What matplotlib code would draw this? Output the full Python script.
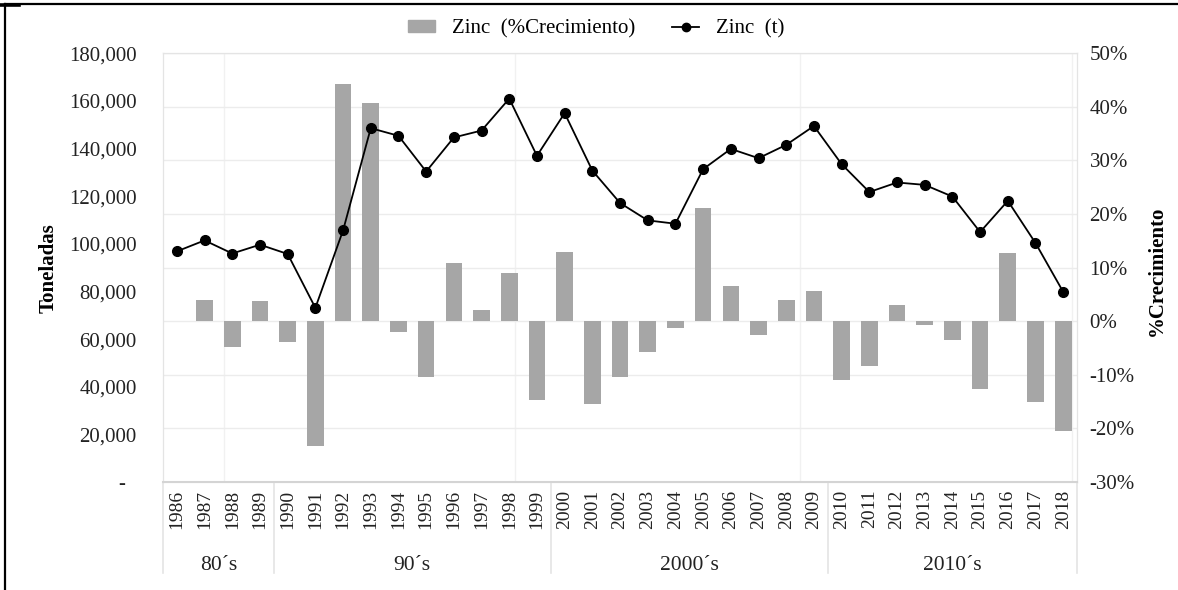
import matplotlib.pyplot as plt
import numpy as np
from matplotlib.lines import Line2D
from matplotlib.patches import Patch

plt.rcParams['font.family'] = ['Liberation Serif', 'DejaVu Serif']

years = list(range(1986, 2019))
zinc_t = [96800, 101400, 95900, 99600, 95700, 73100, 105600, 148500, 145300, 130300,
          144600, 147500, 160900, 136900, 154800, 130700, 117100, 109800, 108400, 131300,
          139800, 135900, 141500, 149400, 133400, 121700, 125700, 124700, 119800, 104900,
          118000, 100300, 79800]
zinc_pct = [np.nan, 4.0, -4.9, 3.8, -3.9, -23.3, 44.2, 40.7, -2.0, -10.4,
            10.9, 2.1, 9.0, -14.7, 12.9, -15.5, -10.5, -5.8, -1.2, 21.2,
            6.5, -2.6, 3.9, 5.7, -10.9, -8.4, 3.0, -0.7, -3.5, -12.7,
            12.7, -15.1, -20.5]
decades = ["80´s", "90´s", "2000´s", "2010´s"]
decade_start = [1986, 1990, 2000, 2010]

x = np.arange(len(years))
grey = '#a6a6a6'
light = '#e4e4e4'
txt = '#222222'

fig = plt.figure(figsize=(11.78, 5.90), dpi=100)
ax = fig.add_axes([0.1384, 0.183, 0.7759, 0.727])
ax2 = ax.twinx()
ax.set_zorder(2)
ax2.set_zorder(1)
ax.patch.set_visible(False)

# growth bars on the right axis
ax2.bar(x, zinc_pct, width=0.6, color=grey, zorder=2)
ax2.set_ylim(-30, 50)
ax2.set_yticks(np.arange(-30, 51, 10))
ax2.set_yticklabels([f'{v}%' for v in range(-30, 51, 10)])
ax2.grid(axis='y', color='#ececec', lw=1)
ax2.set_axisbelow(True)

# tonnes line on the left axis
ax.plot(x, zinc_t, color='black', lw=1.3, marker='o', markersize=7, zorder=3)
ax.set_ylim(0, 180000)
ax.set_yticks(np.arange(0, 180001, 20000))
ax.set_yticklabels(['-  '] + [f'{v:,}' for v in range(20000, 180001, 20000)])
ax.set_xlim(-0.5, len(years) - 0.5)
ax.set_xticks([])

for a in (ax, ax2):
    a.tick_params(axis='y', length=0, labelsize=15, colors=txt)
    for s in a.spines.values():
        s.set_color(light)
ax.tick_params(axis='y', pad=19)
ax2.tick_params(axis='y', pad=9)
ax.spines['bottom'].set_color('#d4d4d4')
ax.spines['bottom'].set_linewidth(1.5)

# faint vertical grid
for gx in [1.7, 12.2, 22.5, 32.3]:
    ax2.axvline(gx, color='#f1f1f1', lw=1, zorder=0)

# two-level category axis
trans = ax.get_xaxis_transform()
for xi, yr in zip(x, years):
    ax.text(xi, -0.018, str(yr), transform=trans, rotation=90, ha='center', va='top',
            fontsize=14, color=txt)
bounds = [years.index(d) - 0.5 for d in decade_start] + [len(years) - 0.5]
for b in bounds:
    ax.plot([b, b], [0, -0.213], transform=trans, color=light, lw=1.2, clip_on=False)
for i, name in enumerate(decades):
    ax.text((bounds[i] + bounds[i + 1]) / 2, -0.195, name, transform=trans,
            ha='center', va='center', fontsize=15.5, color=txt)

fig.text(0.0415, 0.546, 'Toneladas', rotation=90, ha='center', va='center',
         fontsize=15, fontweight='bold')
fig.text(0.982, 0.541, '%Crecimiento', rotation=90, ha='center', va='center',
         fontsize=15, fontweight='bold')

handles = [Patch(color=grey), Line2D([], [], color='black', lw=1.3, marker='o', markersize=6)]
fig.legend(handles, ['Zinc  (%Crecimiento)', 'Zinc  (t)'], loc='center',
           bbox_to_anchor=(0.506, 0.951), ncol=2, frameon=False, fontsize=15,
           handlelength=1.3, handleheight=0.5, columnspacing=1.8, handletextpad=0.8)

# outer frame
fig.add_artist(Line2D([0.0045, 0.0045], [0, 0.993], transform=fig.transFigure, color='black', lw=1.6))
fig.add_artist(Line2D([0.0045, 1], [0.993, 0.993], transform=fig.transFigure, color='black', lw=1.6))
fig.add_artist(Line2D([0, 0.016], [0.992, 0.992], transform=fig.transFigure, color='black', lw=2.6))

fig.savefig('out.png', dpi=100)
